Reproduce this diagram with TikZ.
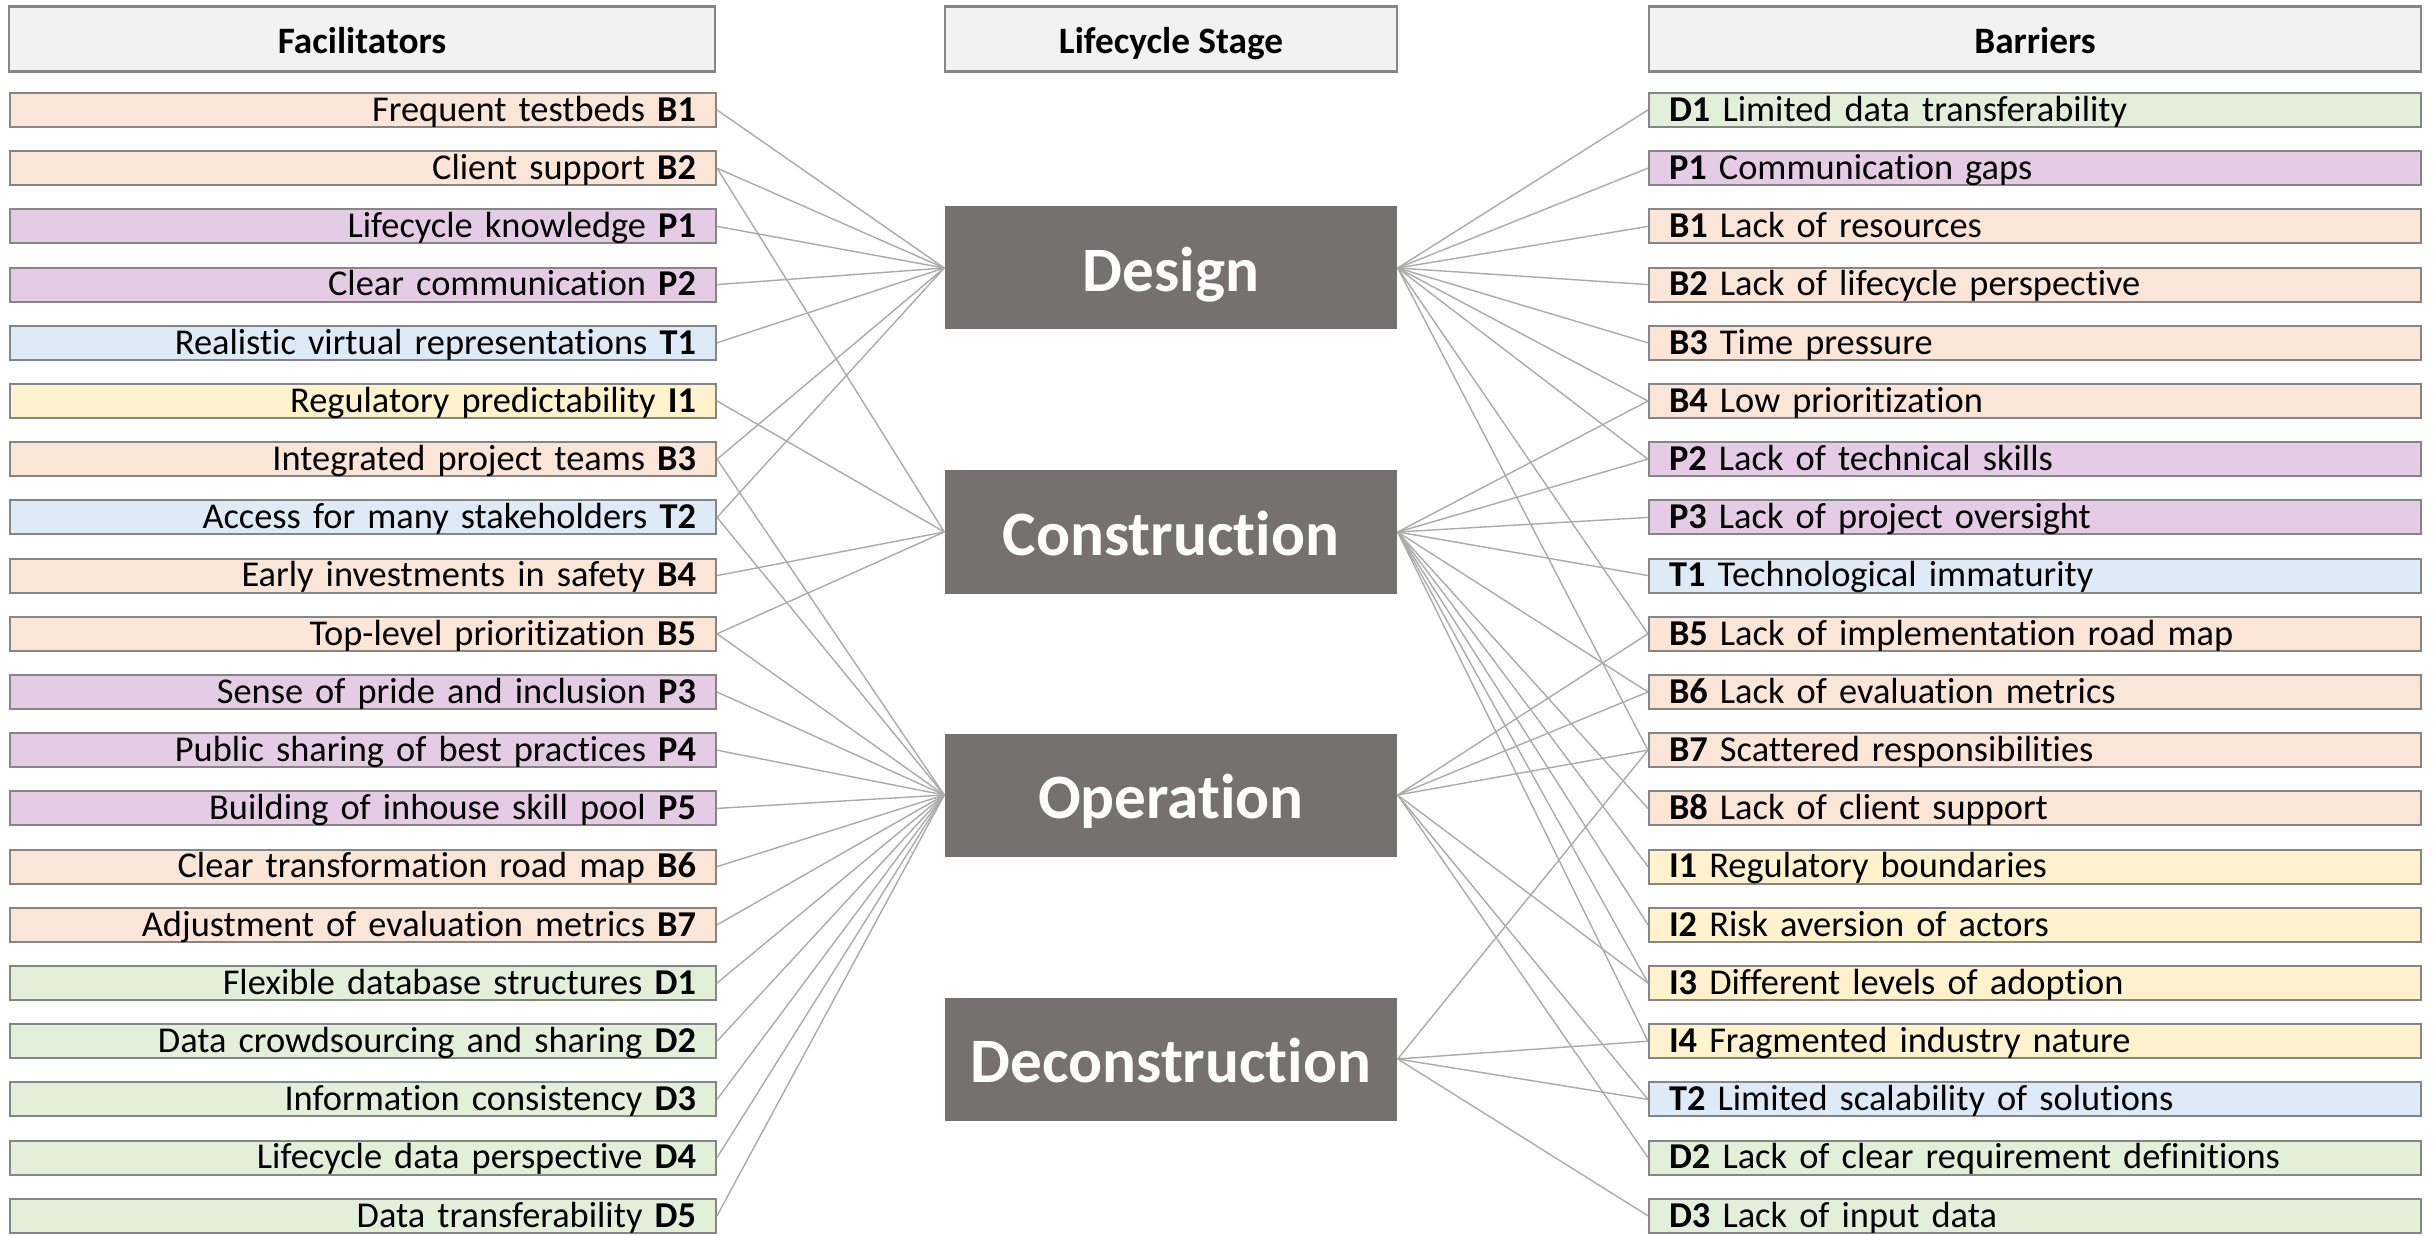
\documentclass[tikz,border=0pt]{standalone}
\usepackage{fontspec}
\setmainfont[Ligatures=NoCommon]{Carlito}
\usepackage{tikz}
\definecolor{cB}{HTML}{FBE5D6}
\definecolor{cP}{HTML}{E3CCE4}
\definecolor{cT}{HTML}{DEEBF7}
\definecolor{cI}{HTML}{FFF2CC}
\definecolor{cD}{HTML}{E2F0D9}
\definecolor{headfill}{HTML}{F2F2F2}
\definecolor{stagefill}{HTML}{767171}
\definecolor{frame}{HTML}{868686}
\definecolor{lineGray}{HTML}{ABABAB}

\begin{document}
\begin{tikzpicture}[
    item/.style={draw=frame, line width=0.6pt, inner xsep=0.2cm, inner ysep=0pt, minimum height=0.34cm,
        text height=8pt, text depth=1.6pt, font=\fontsize{10.35}{12}\selectfont},
    fac/.style={item, text width=6.66cm, align=right},
    bar/.style={item, text width=7.32cm, align=left},
    head/.style={draw=frame, fill=headfill, line width=0.6pt, inner sep=0pt, minimum height=0.65cm,
        text height=9pt, text depth=0.5pt, font=\fontsize{10.6}{12}\selectfont\bfseries},
    stage/.style={fill=stagefill, text=white, inner sep=0pt, minimum width=4.52cm, minimum height=1.23cm,
        text height=14pt, text depth=0.6pt, font=\fontsize{18}{20}\selectfont\bfseries},
    conn/.style={draw=lineGray, line width=0.4pt}]
    \useasboundingbox (0,0) rectangle (24.33,-12.36);
    % headers
    \node[head, minimum width=7.06cm] (hfac) at (3.62,-0.39) {Facilitators};
    \node[head, minimum width=4.52cm] (hstage) at (11.71,-0.39) {Lifecycle Stage};
    \node[head, minimum width=7.72cm] (hbar) at (20.35,-0.39) {Barriers};
    % lifecycle stages
    \node[stage] (design) at (11.71,-2.68) {Design};
    \node[stage] (construction) at (11.71,-5.32) {Construction};
    \node[stage] (operation) at (11.71,-7.95) {Operation};
    \node[stage] (deconstruction) at (11.71,-10.59) {Deconstruction};
    % facilitators
    \foreach \i/\txt/\col [count=\k] in {B1/Frequent testbeds/cB, B2/Client support/cB,
        P1/Lifecycle knowledge/cP, P2/Clear communication/cP, T1/Realistic virtual representations/cT,
        I1/Regulatory predictability/cI, B3/Integrated project teams/cB, T2/Access for many stakeholders/cT,
        B4/Early investments in safety/cB, B5/Top-level prioritization/cB, P3/Sense of pride and inclusion/cP,
        P4/Public sharing of best practices/cP, P5/Building of inhouse skill pool/cP,
        B6/Clear transformation road map/cB, B7/Adjustment of evaluation metrics/cB,
        D1/Flexible database structures/cD, D2/Data crowdsourcing and sharing/cD,
        D3/Information consistency/cD, D4/Lifecycle data perspective/cD, D5/Data transferability/cD}
        \node[fac, fill=\col] (f-\i) at (3.63,{-1.10-(\k-1)*0.582}) {\txt{} \textbf{\i}};
    % barriers
    \foreach \i/\txt/\col [count=\k] in {D1/Limited data transferability/cD, P1/Communication gaps/cP,
        B1/Lack of resources/cB, B2/Lack of lifecycle perspective/cB, B3/Time pressure/cB,
        B4/Low prioritization/cB, P2/Lack of technical skills/cP, P3/Lack of project oversight/cP,
        T1/Technological immaturity/cT, B5/Lack of implementation road map/cB,
        B6/Lack of evaluation metrics/cB, B7/Scattered responsibilities/cB, B8/Lack of client support/cB,
        I1/Regulatory boundaries/cI, I2/Risk aversion of actors/cI, I3/Different levels of adoption/cI,
        I4/Fragmented industry nature/cI, T2/Limited scalability of solutions/cT,
        D2/Lack of clear requirement definitions/cD, D3/Lack of input data/cD}
        \node[bar, fill=\col] (b-\i) at (20.35,{-1.10-(\k-1)*0.582}) {\textbf{\i} \txt};
    % links facilitators -> stages
    \foreach \f/\s in {B1/design, B2/design, B2/construction, P1/design, P2/design, T1/design,
        I1/construction, B3/design, B3/operation, T2/design, T2/operation, B4/construction,
        B5/construction, B5/operation, P3/operation, P4/operation, P5/operation, B6/operation,
        B7/operation, D1/operation, D2/operation, D3/operation, D4/operation, D5/operation}
        \path[conn] (f-\f.east) -- (\s.west);
    % links stages -> barriers
    \foreach \s/\list in {design/{D1,P1,B1,B2,B3,B4,P2,B5,B7},
        construction/{B4,P2,P3,T1,B6,B8,I1,I2,I3,I4},
        operation/{B5,B6,B7,I3,T2,D2},
        deconstruction/{B7,I4,T2,D3}}
        \foreach \b in \list
            \path[conn] (\s.east) -- (b-\b.west);
\end{tikzpicture}
\end{document}
